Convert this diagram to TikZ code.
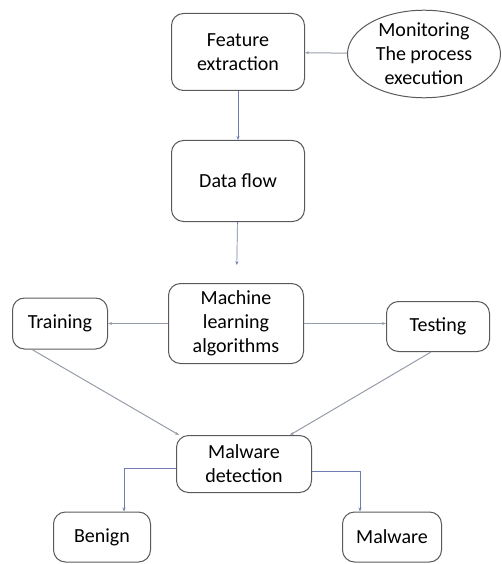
\documentclass[tikz,border=0pt]{standalone}
\usepackage{fontspec}
\setmainfont{Carlito}
\usetikzlibrary{positioning,shapes.geometric,arrows.meta}

\definecolor{linkblue}{RGB}{112,124,176}
\definecolor{linkgray}{RGB}{150,156,170}
\definecolor{boxgray}{RGB}{90,90,90}

\begin{document}
\begin{tikzpicture}[x=1pt,y=-1pt,font=\fontsize{20}{24}\selectfont]
		\tikzstyle{block} = [rectangle,rounded corners=12pt,draw=boxgray,line width=1pt,align=center,inner sep=0pt]
		\tikzstyle{link} = [draw=linkblue,line width=0.7pt,-{Stealth[length=4pt,width=3pt]}]
		\tikzstyle{glink} = [draw=linkgray,line width=1pt,-{Stealth[length=4pt,width=3pt]}]
		
		\useasboundingbox (0,0) rectangle (501,564);
		
		\node[block,minimum width=133pt,minimum height=77pt] (fe) at (238,52) {Feature\\extraction};
		\node[ellipse,draw=boxgray,line width=1pt,align=center,inner sep=0pt,minimum width=153pt,minimum height=82pt] (mon) at (424,54) {Monitoring\\The process\\execution};
		
		\node[block,minimum width=133pt,minimum height=81pt,below=49pt of fe] (df) {Data flow};
		\node[block,minimum width=135pt,minimum height=80pt,below=61pt of df,xshift=-2pt] (ml) {Machine\\learning\\algorithms};
		
		\node[block,minimum width=95pt,minimum height=51pt,left=60pt of ml] (tr) {Training};
		\node[block,minimum width=103pt,minimum height=50pt,right=82pt of ml,yshift=-3pt] (te) {Testing};
		
		\node[block,minimum width=135pt,minimum height=57pt,below=71pt of ml,xshift=8pt] (md) {Malware\\detection};
		
		\node[block,minimum width=97pt,minimum height=50pt] (be) at (102,537) {Benign};
		\node[block,minimum width=99pt,minimum height=50pt] (mw) at (392,537) {Malware};
		
		\draw[glink] (mon)--(fe);
		\draw[link] (fe)--(df);
		\draw[link,shorten >=18pt] (df)--(ml);
		
		\draw[glink] (ml)--(tr);
		\draw[glink] (ml.east)--(te.west|-ml.east);
		
		\draw[glink] ([xshift=20pt]tr.south west)--([xshift=3pt]md.north west);
		\draw[glink] ([xshift=-7pt]te.south)--([xshift=-22pt]md.north east);
		
		\draw[link] ([yshift=-4pt]md.west)-|([xshift=22pt]be.north);
		\draw[link] ([yshift=-7pt]md.east)-|([xshift=-32pt]mw.north);
	\end{tikzpicture}
\end{document}
